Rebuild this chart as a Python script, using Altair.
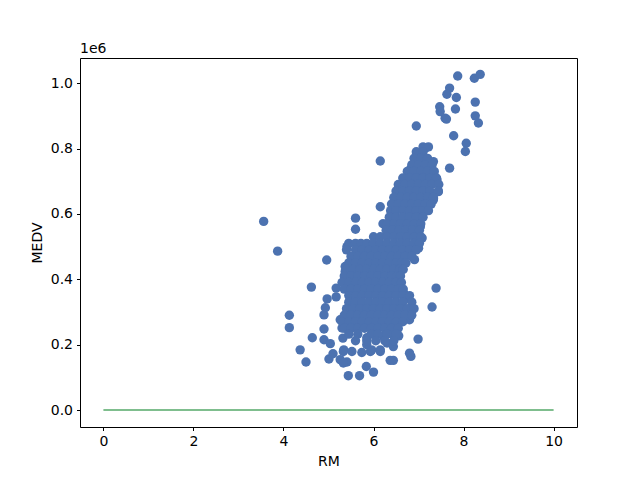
import altair as alt
import pandas as pd

# isolated points, (RM, MEDV)
left_pts = [
    (3.56, 577000), (3.87, 486000), (4.96, 459000), (4.62, 376000), (4.13, 290000),
    (4.13, 252000), (4.37, 184000), (4.50, 147000), (4.64, 221000), (4.90, 248000),
    (4.90, 215000), (5.04, 203000), (5.01, 156000), (5.10, 172000), (4.97, 340000),
    (4.93, 313000), (4.90, 291000), (5.17, 373000), (5.17, 346000), (5.41, 500000),
    (5.37, 439000), (5.37, 424000), (5.37, 404000), (5.26, 276000), (5.30, 251000),
    (5.32, 220000), (5.26, 154000), (5.41, 147000),
]
lower_pts = [
    (5.44, 105000), (5.69, 105000), (5.84, 133000), (6.00, 116000), (6.37, 152000),
    (6.44, 152000), (6.80, 174000), (6.83, 164000), (6.99, 217000), (7.39, 373000),
    (7.30, 315000), (5.85, 221000), (5.85, 200000), (6.22, 225000), (6.30, 205000),
    (6.44, 230000), (6.56, 227000), (6.44, 194000), (6.67, 358000), (6.73, 342000),
    (6.82, 297000), (6.80, 276000), (5.33, 179000), (5.34, 184000), (5.33, 144000),
    (5.52, 179000), (5.74, 176000), (5.93, 179000), (5.96, 184000), (6.15, 179000),
    (6.15, 184000),
]
upper_pts = [
    (5.60, 587000), (5.60, 553000), (6.15, 622000), (6.21, 570000), (7.08, 526000),
    (7.00, 495000), (6.91, 460000), (7.10, 602000), (7.33, 643000), (7.04, 561000),
    (6.95, 869000), (6.15, 762000), (7.78, 839000), (7.69, 740000), (7.15, 801000),
    (6.96, 786000), (7.33, 760000), (6.82, 737000), (7.41, 704000), (7.44, 668000),
    (7.33, 648000), (6.56, 684000), (6.52, 658000), (6.95, 779000),
]
top_pts = [
    (7.87, 1022000), (8.24, 1015000), (8.37, 1027000), (7.69, 985000), (7.63, 966000),
    (7.84, 956000), (7.47, 928000), (7.48, 913000), (7.59, 893000), (7.62, 890000),
    (7.82, 921000), (8.26, 942000), (8.26, 900000), (8.33, 878000), (8.06, 816000),
    (8.04, 791000),
]
# dense cloud, read row by row: MEDV -> RM values
core_rows = {
    805000: [7.10, 7.22],
    790000: [6.95, 7.10],
    770000: [6.90, 7.05, 7.20],
    750000: [6.85, 7.00, 7.15, 7.30],
    730000: [6.75, 6.90, 7.05, 7.20, 7.35],
    710000: [6.65, 6.80, 6.95, 7.10, 7.25, 7.40],
    690000: [6.55, 6.70, 6.85, 7.00, 7.15, 7.30, 7.45],
    670000: [6.50, 6.65, 6.80, 6.95, 7.10, 7.25, 7.44],
    650000: [6.45, 6.60, 6.75, 6.90, 7.05, 7.20, 7.33],
    630000: [6.40, 6.55, 6.70, 6.85, 7.00, 7.15, 7.28],
    610000: [6.38, 6.50, 6.65, 6.80, 6.95, 7.10, 7.22],
    590000: [6.35, 6.50, 6.65, 6.80, 6.95, 7.10],
    570000: [6.30, 6.45, 6.60, 6.75, 6.90, 7.05],
    550000: [6.28, 6.42, 6.57, 6.72, 6.87, 7.02],
    530000: [6.00, 6.15, 6.30, 6.45, 6.60, 6.75, 6.90, 7.05],
    510000: [5.45, 5.60, 5.72, 5.85, 6.00, 6.15, 6.30, 6.45, 6.60, 6.75, 6.90, 7.02],
    490000: [5.40, 5.60, 5.75, 5.90, 6.05, 6.20, 6.35, 6.50, 6.65, 6.80, 6.95],
    470000: [5.50, 5.65, 5.80, 5.95, 6.10, 6.25, 6.40, 6.55, 6.70, 6.85],
    450000: [5.45, 5.60, 5.75, 5.90, 6.05, 6.20, 6.35, 6.50, 6.62, 6.72],
    430000: [5.40, 5.55, 5.70, 5.85, 6.00, 6.15, 6.30, 6.45, 6.58, 6.66],
    410000: [5.35, 5.50, 5.65, 5.80, 5.95, 6.10, 6.25, 6.40, 6.52, 6.60],
    390000: [5.30, 5.45, 5.60, 5.75, 5.90, 6.05, 6.20, 6.35, 6.50, 6.62],
    370000: [5.35, 5.50, 5.65, 5.80, 5.95, 6.10, 6.25, 6.40, 6.55, 6.66],
    350000: [5.45, 5.60, 5.75, 5.90, 6.05, 6.20, 6.35, 6.50, 6.65, 6.80],
    330000: [5.45, 5.60, 5.75, 5.90, 6.05, 6.20, 6.35, 6.50, 6.65, 6.85],
    310000: [5.40, 5.55, 5.70, 5.85, 6.00, 6.15, 6.30, 6.45, 6.60, 6.75, 6.90],
    290000: [5.35, 5.50, 5.65, 5.80, 5.95, 6.10, 6.25, 6.40, 6.55, 6.70, 6.85],
    270000: [5.30, 5.45, 5.60, 5.75, 5.90, 6.05, 6.20, 6.35, 6.50, 6.65],
    250000: [5.35, 5.50, 5.65, 5.80, 5.95, 6.10, 6.25, 6.40, 6.55],
    232000: [5.45, 5.65, 5.95, 6.10, 6.30, 6.50],
    212000: [5.60, 5.85, 6.05, 6.25, 6.45],
}

line_x = [0, 10]
line_y = [0, 0]
x_ticks = [0, 2, 4, 6, 8, 10]
y_ticks = [0, 200000, 400000, 600000, 800000, 1000000]

rows = []
for rm, mv in left_pts + lower_pts + upper_pts + top_pts:
    rows.append({"RM": rm, "MEDV": mv})
for mv, rms in core_rows.items():
    for rm in rms:
        rows.append({"RM": rm, "MEDV": mv})
df = pd.DataFrame(rows)
line_df = pd.DataFrame({"RM": line_x, "MEDV": line_y})

FONT = "DejaVu Sans"
xscale = alt.Scale(domain=[-0.52, 10.52], nice=False, zero=False)
yscale = alt.Scale(domain=[-52000, 1077000], nice=False, zero=False)

pts = alt.Chart(df).mark_circle(size=88, color="#4c72b0", opacity=1).encode(
    x=alt.X("RM:Q", scale=xscale,
            axis=alt.Axis(values=x_ticks, title="RM", format="d")),
    y=alt.Y("MEDV:Q", scale=yscale,
            axis=alt.Axis(values=y_ticks, title="MEDV",
                          labelExpr="format(datum.value / 1000000, '.1f')")),
)
line = alt.Chart(line_df).mark_line(color="#55a868", strokeWidth=1.5).encode(
    x=alt.X("RM:Q", scale=xscale),
    y=alt.Y("MEDV:Q", scale=yscale),
)
offset = alt.Chart(pd.DataFrame({"t": ["1e6"]})).mark_text(
    align="left", baseline="alphabetic", fontSize=14, font=FONT, color="black"
).encode(x=alt.value(0), y=alt.value(-5), text="t:N")

chart = alt.layer(pts, line, offset).properties(
    width=497, height=369,
    padding={"left": 72, "top": 50, "right": 55, "bottom": 45},
    autosize=alt.AutoSizeParams(type="none"),
).configure_view(stroke="black", strokeWidth=1).configure_axis(
    grid=False, domain=False, ticks=True, tickColor="black", tickSize=3.5, tickWidth=1,
    labelFont=FONT, labelFontSize=14, labelColor="black", labelPadding=4,
    titleFont=FONT, titleFontSize=14, titleFontWeight="normal", titleColor="black",
    titlePadding=6,
)

chart.save("out.html", embed_options={"renderer": "svg", "actions": False})
